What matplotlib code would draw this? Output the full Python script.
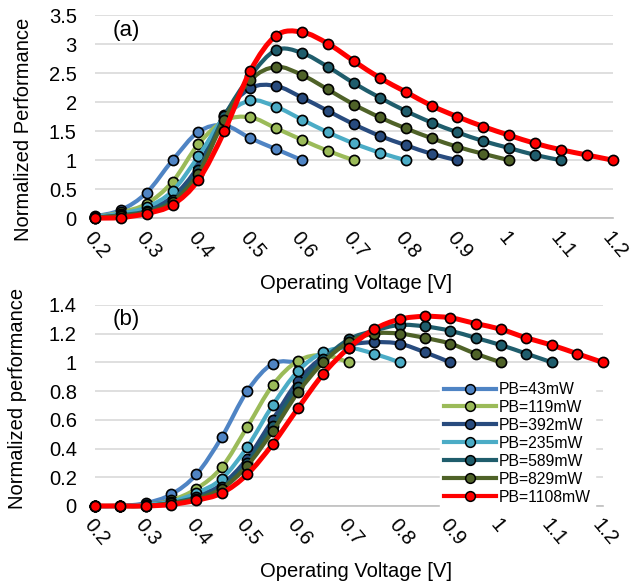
import matplotlib
matplotlib.use('Agg')
import matplotlib.pyplot as plt
from matplotlib.path import Path
from matplotlib.patches import PathPatch
from matplotlib.lines import Line2D
from matplotlib.ticker import FuncFormatter

plt.rcParams['font.family'] = ['Liberation Sans', 'DejaVu Sans']

voltage = [0.2, 0.25, 0.3, 0.35, 0.4, 0.45, 0.5, 0.55, 0.6, 0.65, 0.7,
           0.75, 0.8, 0.85, 0.9, 0.95, 1.0, 1.05, 1.1, 1.15, 1.2]

labels = ['PB=43mW', 'PB=119mW', 'PB=392mW', 'PB=235mW',
          'PB=589mW', 'PB=829mW', 'PB=1108mW']
colors = ['#4F84C4', '#9BBB59', '#284B7E', '#4BACC6',
          '#1F5D6C', '#4F6228', '#FF0000']

# (a) normalized performance
a_43 = [0.03, 0.14, 0.44, 1.0, 1.49, 1.6, 1.38, 1.19, 1.0]
a_119 = [0.02, 0.1, 0.25, 0.63, 1.28, 1.68, 1.74, 1.55, 1.35, 1.16, 1.0]
a_392 = [0.02, 0.07, 0.15, 0.37, 0.9, 1.78, 2.24, 2.28, 2.08, 1.85, 1.62,
         1.42, 1.26, 1.11, 1.0]
a_235 = [0.02, 0.08, 0.19, 0.47, 1.07, 1.74, 2.03, 1.92, 1.7, 1.48, 1.29,
         1.13, 1.0]
a_589 = [0.01, 0.05, 0.12, 0.32, 0.83, 1.76, 2.45, 2.9, 2.85, 2.61, 2.33,
         2.08, 1.85, 1.65, 1.48, 1.33, 1.21, 1.09, 1.0]
a_829 = [0.01, 0.04, 0.1, 0.28, 0.77, 1.7, 2.38, 2.61, 2.47, 2.22, 1.96,
         1.74, 1.55, 1.38, 1.23, 1.11, 1.0]
a_1108 = [0.0, 0.01, 0.08, 0.23, 0.66, 1.5, 2.54, 3.15, 3.21, 3.01, 2.71,
          2.42, 2.18, 1.94, 1.75, 1.58, 1.43, 1.29, 1.18, 1.09, 1.0]

# (b) normalized performance
b_43 = [0.0, 0.0, 0.02, 0.08, 0.22, 0.48, 0.8, 0.99, 1.0]
b_119 = [0.0, 0.0, 0.01, 0.04, 0.12, 0.27, 0.55, 0.84, 1.01, 1.05, 1.0]
b_392 = [0.0, 0.0, 0.01, 0.03, 0.07, 0.15, 0.33, 0.6, 0.87, 1.04, 1.12,
         1.14, 1.13, 1.07, 1.0]
b_235 = [0.0, 0.0, 0.01, 0.03, 0.09, 0.19, 0.41, 0.7, 0.94, 1.07, 1.1,
         1.06, 1.0]
b_589 = [0.0, 0.0, 0.0, 0.02, 0.06, 0.13, 0.3, 0.56, 0.83, 1.02, 1.16,
         1.22, 1.26, 1.25, 1.22, 1.17, 1.12, 1.06, 1.0]
b_829 = [0.0, 0.0, 0.0, 0.02, 0.05, 0.12, 0.28, 0.52, 0.79, 1.0, 1.14,
         1.2, 1.2, 1.17, 1.13, 1.06, 1.0]
b_1108 = [0.0, 0.0, 0.0, 0.01, 0.04, 0.09, 0.22, 0.43, 0.68, 0.92, 1.1,
          1.23, 1.3, 1.32, 1.31, 1.27, 1.23, 1.17, 1.12, 1.06, 1.0]

series_a = [a_43, a_119, a_392, a_235, a_589, a_829, a_1108]
series_b = [b_43, b_119, b_392, b_235, b_589, b_829, b_1108]


def smooth_path(xs, ys):
    # excel-like smoothed line: bezier segments with catmull-rom handles
    n = len(xs)
    verts = [(xs[0], ys[0])]
    codes = [Path.MOVETO]
    for i in range(n - 1):
        p = max(i - 1, 0)
        q = min(i + 2, n - 1)
        c1 = (xs[i] + (xs[i + 1] - xs[p]) / 6, ys[i] + (ys[i + 1] - ys[p]) / 6)
        c2 = (xs[i + 1] - (xs[q] - xs[i]) / 6, ys[i + 1] - (ys[q] - ys[i]) / 6)
        verts += [c1, c2, (xs[i + 1], ys[i + 1])]
        codes += [Path.CURVE4] * 3
    return Path(verts, codes)


def fmt(v, pos):
    return '%g' % round(v, 2)


def draw_panel(ax, series, ymax, ystep, ylabel, tag, xlab_pos, ylab_pos):
    for k, (ys, c) in enumerate(zip(series, colors)):
        xs = voltage[:len(ys)]
        lw = 3.6 if c == '#FF0000' else 3.0
        patch = PathPatch(smooth_path(xs, ys), fill=False, edgecolor=c, lw=lw,
                          capstyle='round', joinstyle='round', zorder=3 + 2 * k,
                          clip_on=False)
        ax.add_patch(patch)
        ax.plot(xs, ys, linestyle='none', marker='o', markersize=7.3,
                markerfacecolor=c, markeredgecolor='black', markeredgewidth=1.2,
                zorder=4 + 2 * k, clip_on=False)

    ax.set_xlim(0.2, 1.2)
    ax.set_ylim(0, ymax)
    ax.set_xticks([0.2, 0.3, 0.4, 0.5, 0.6, 0.7, 0.8, 0.9, 1.0, 1.1, 1.2])
    yt = [i * ystep for i in range(int(round(ymax / ystep)) + 1)]
    ax.set_yticks(yt)
    ax.xaxis.set_major_formatter(FuncFormatter(fmt))
    ax.yaxis.set_major_formatter(FuncFormatter(fmt))
    ax.grid(axis='y', color='#D9D9D9', lw=1.2, zorder=0)
    ax.set_axisbelow(True)
    for s in ['top', 'right', 'left']:
        ax.spines[s].set_visible(False)
    ax.spines['bottom'].set_color('#BFBFBF')
    ax.spines['bottom'].set_linewidth(1.2)
    ax.spines['bottom'].set_zorder(1)
    ax.tick_params(length=0, labelsize=14.5)
    ax.tick_params(axis='y', pad=13)
    ax.tick_params(axis='x', pad=7)
    for t in ax.get_xticklabels():
        t.set_rotation(-50)
        t.set_ha('left')
        t.set_va('top')
        t.set_rotation_mode('anchor')
    ax.set_xlabel('Operating Voltage [V]', fontsize=14.5)
    ax.xaxis.set_label_coords(*xlab_pos)
    ax.set_ylabel(ylabel, fontsize=14.5, va='center')
    ax.yaxis.set_label_coords(*ylab_pos)
    ax.text(0.035, 0.925, tag, transform=ax.transAxes, fontsize=16,
            va='center', ha='left')


fig = plt.figure(figsize=(6.37, 5.88), dpi=100)
ax1 = fig.add_axes([0.149, 0.629, 0.813, 0.345])
ax2 = fig.add_axes([0.149, 0.1395, 0.797, 0.342])

draw_panel(ax1, series_a, 3.5, 0.5, 'Normalized Performance', '(a)',
           (0.504, -0.275), (-0.137, 0.438))
draw_panel(ax2, series_b, 1.4, 0.2, 'Normalized performance', '(b)',
           (0.514, -0.278), (-0.152, 0.537))

handles = [Line2D([], [], color=c, lw=3.0, marker='o', markersize=7,
                  markerfacecolor=c, markeredgecolor='black',
                  markeredgewidth=1.1) for c in colors]
leg = ax2.legend(handles, labels, loc='upper left',
                 bbox_to_anchor=(0.665, 0.675), fontsize=11.3,
                 frameon=True, fancybox=False, framealpha=1,
                 edgecolor='white', handlelength=3.3, handletextpad=0.2,
                 labelspacing=0.19, borderpad=0.25)
leg.set_zorder(30)

fig.savefig('out.png', dpi=100)
